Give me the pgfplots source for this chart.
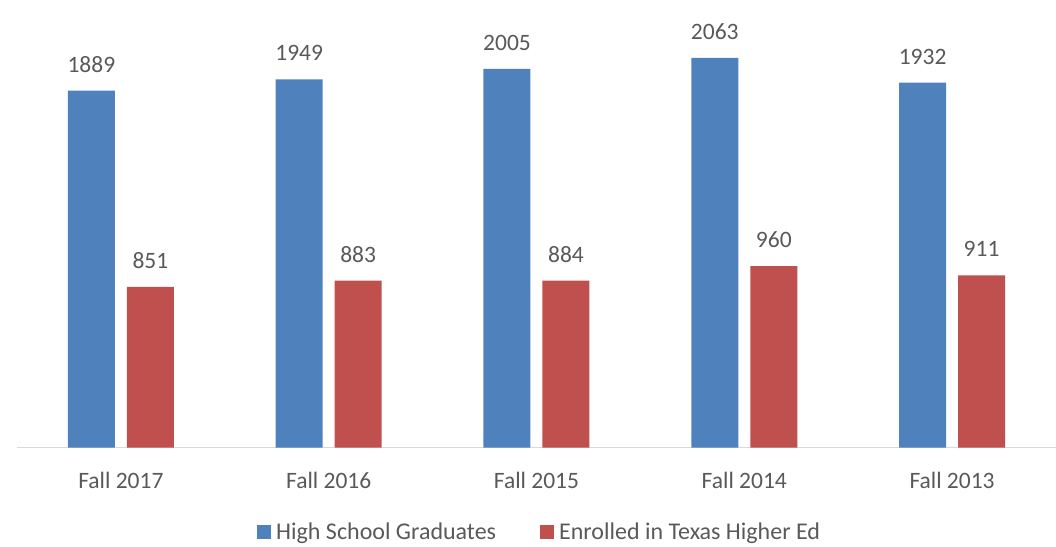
\documentclass[border=0pt]{standalone}
\usepackage{pgfplots}
\pgfplotsset{compat=1.18}
\usepackage{fontspec}
\setmainfont{Carlito}
\definecolor{cblue}{HTML}{4F81BD}
\definecolor{cred}{HTML}{C0504D}
\definecolor{ctext}{HTML}{595959}
\definecolor{caxis}{HTML}{D9D9D9}
\begin{document}
\begin{tikzpicture}
\useasboundingbox (0,0) rectangle (1056pt,546pt);
\begin{axis}[
  at={(17pt,98.5pt)}, anchor=south west,
  scale only axis, width=1039pt, height=434.4pt,
  xmin=-0.5, xmax=4.5, ymin=0, ymax=2300,
  /pgf/number format/1000 sep={},
  /pgf/number format/assume math mode=true,
  axis x line*=bottom, axis y line=none,
  x axis line style={draw=caxis, line width=1.5pt, -},
  xtick={0,1,2,3,4},
  xticklabels={Fall 2017,Fall 2016,Fall 2015,Fall 2014,Fall 2013},
  xtick style={draw=none},
  xticklabel style={anchor=base, yshift=-37pt, font=\fontsize{23.5}{28}\selectfont, text=ctext},
  ybar, bar width=47pt,
  nodes near coords,
  every node near coord/.append style={anchor=base, inner sep=0pt, yshift=18.5pt, font=\fontsize{23.5}{28}\selectfont, text=ctext},
  clip=false,
  legend columns=2,
  legend style={at={(0.231,-0.1934)}, anchor=west, draw=none, fill=none, inner sep=0pt,
    font=\fontsize{24}{28}\selectfont, text=ctext,
    /tikz/every even column/.append style={column sep=44pt},
    nodes={inner xsep=0pt, inner ysep=2pt}},
  legend image code/.code={\fill[#1, draw=none] (0pt,-7pt) rectangle (14pt,7pt);},
  legend cell align=left,
]
\addplot[fill=cblue, draw=none, bar shift=-29.5pt] coordinates {(0,1889) (1,1949) (2,2005) (3,2063) (4,1932)};
\addplot[fill=cred, draw=none, bar shift=29.5pt] coordinates {(0,851) (1,883) (2,884) (3,960) (4,911)};
\legend{\hspace{5pt}High School Graduates, \hspace{5pt}Enrolled in Texas Higher Ed}
\end{axis}
\end{tikzpicture}
\end{document}
